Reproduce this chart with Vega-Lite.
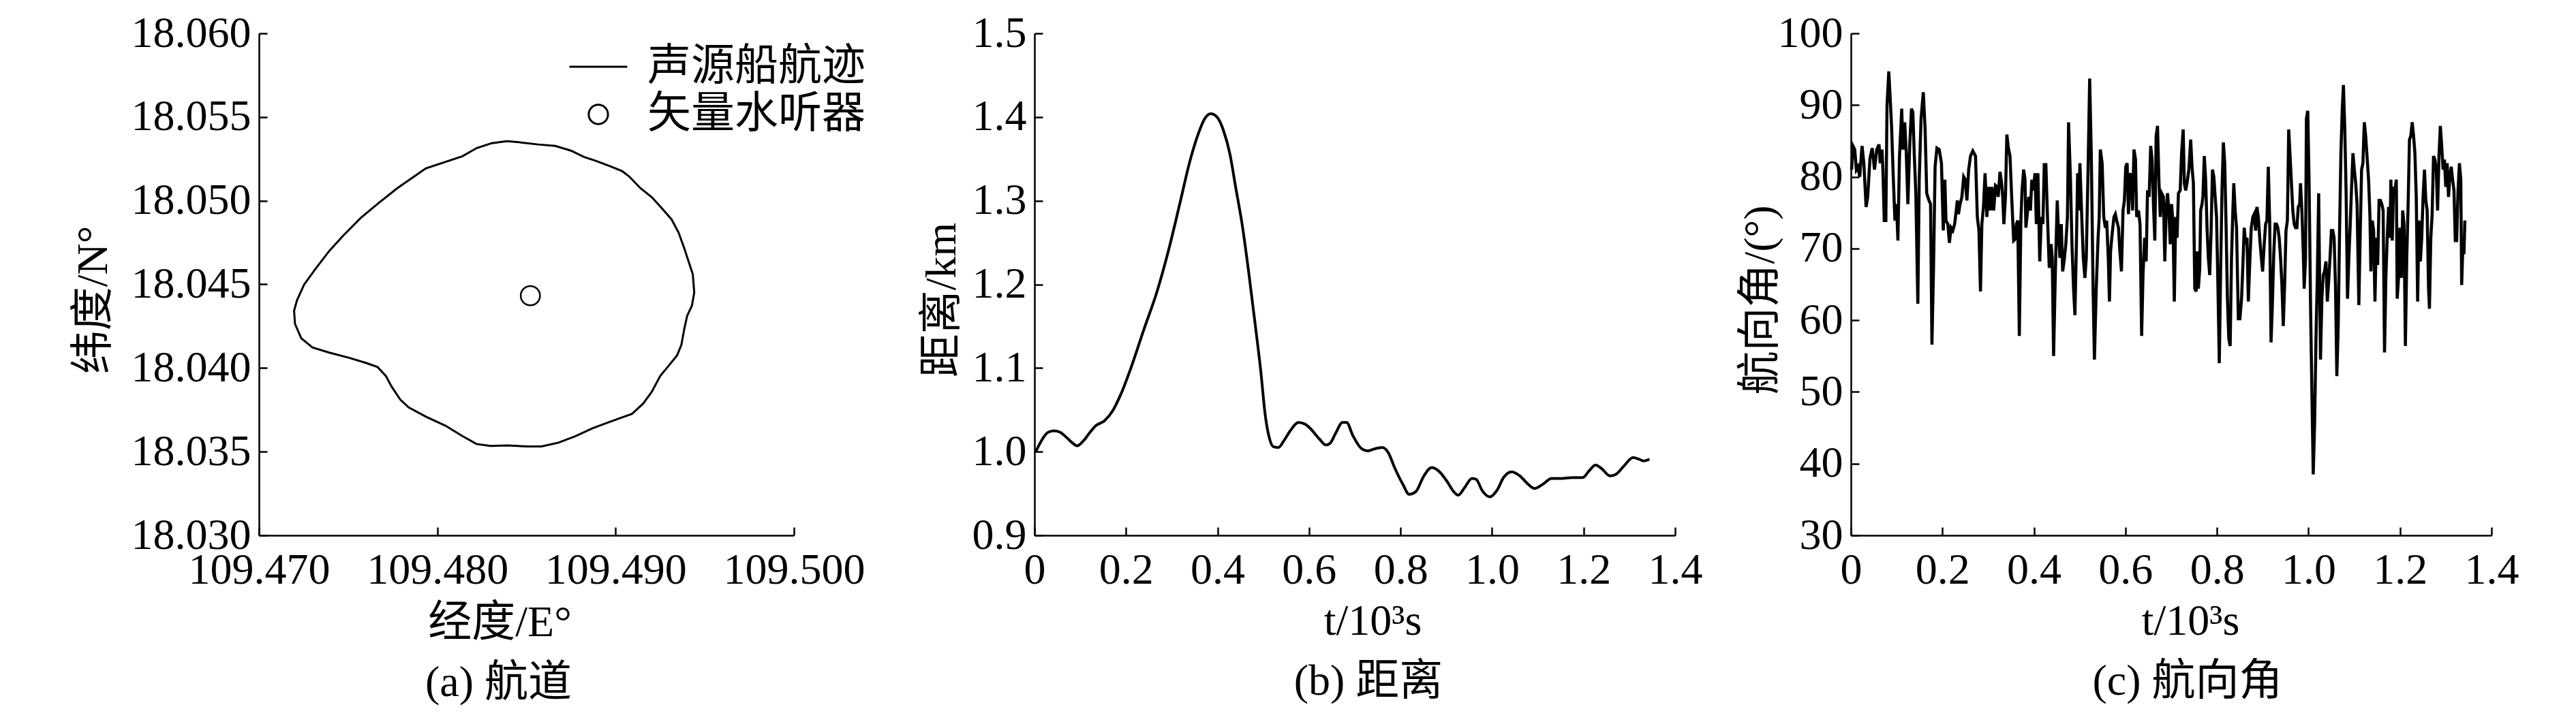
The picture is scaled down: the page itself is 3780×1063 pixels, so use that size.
{
  "$schema": "https://vega.github.io/schema/vega-lite/v6.json",
  "background": "white",
  "padding": {"left": 105, "top": 17, "right": 5, "bottom": 5},
  "spacing": 81,
  "datasets": {
    "track": [
      {"i":0,"lon":109.48390,"lat":18.05356},{"i":1,"lon":109.48306,"lat":18.05344},{"i":2,"lon":109.48222,"lat":18.05315},{"i":3,"lon":109.48141,"lat":18.05266},{"i":4,"lon":109.47935,"lat":18.05193},{"i":5,"lon":109.47871,"lat":18.05145},{"i":6,"lon":109.47776,"lat":18.05075},{"i":7,"lon":109.47665,"lat":18.04981},{"i":8,"lon":109.47570,"lat":18.04896},{"i":9,"lon":109.47475,"lat":18.04794},{"i":10,"lon":109.47395,"lat":18.04701},{"i":11,"lon":109.47316,"lat":18.04591},{"i":12,"lon":109.47253,"lat":18.04498},{"i":13,"lon":109.47213,"lat":18.04404},{"i":14,"lon":109.47197,"lat":18.04342},{"i":15,"lon":109.47202,"lat":18.04264},{"i":16,"lon":109.47237,"lat":18.04178},{"i":17,"lon":109.47300,"lat":18.04123},{"i":18,"lon":109.47395,"lat":18.04092},{"i":19,"lon":109.47506,"lat":18.04061},{"i":20,"lon":109.47602,"lat":18.04030},{"i":21,"lon":109.47665,"lat":18.04006},{"i":22,"lon":109.47712,"lat":18.03952},{"i":23,"lon":109.47744,"lat":18.03889},{"i":24,"lon":109.47792,"lat":18.03812},{"i":25,"lon":109.47839,"lat":18.03765},{"i":26,"lon":109.47935,"lat":18.03710},{"i":27,"lon":109.48046,"lat":18.03655},{"i":28,"lon":109.48141,"lat":18.03593},{"i":29,"lon":109.48220,"lat":18.03546},{"i":30,"lon":109.48299,"lat":18.03534},{"i":31,"lon":109.48394,"lat":18.03537},{"i":32,"lon":109.48505,"lat":18.03531},{"i":33,"lon":109.48584,"lat":18.03531},{"i":34,"lon":109.48680,"lat":18.03554},{"i":35,"lon":109.48775,"lat":18.03593},{"i":36,"lon":109.48870,"lat":18.03640},{"i":37,"lon":109.48949,"lat":18.03671},{"i":38,"lon":109.49028,"lat":18.03702},{"i":39,"lon":109.49092,"lat":18.03726},{"i":40,"lon":109.49155,"lat":18.03788},{"i":41,"lon":109.49203,"lat":18.03858},{"i":42,"lon":109.49250,"lat":18.03952},{"i":43,"lon":109.49298,"lat":18.04014},{"i":44,"lon":109.49345,"lat":18.04076},{"i":45,"lon":109.49369,"lat":18.04139},{"i":46,"lon":109.49385,"lat":18.04233},{"i":47,"lon":109.49401,"lat":18.04311},{"i":48,"lon":109.49428,"lat":18.04373},{"i":49,"lon":109.49441,"lat":18.04451},{"i":50,"lon":109.49433,"lat":18.04560},{"i":51,"lon":109.49409,"lat":18.04638},{"i":52,"lon":109.49385,"lat":18.04716},{"i":53,"lon":109.49353,"lat":18.04810},{"i":54,"lon":109.49314,"lat":18.04888},{"i":55,"lon":109.49250,"lat":18.04966},{"i":56,"lon":109.49203,"lat":18.05021},{"i":57,"lon":109.49139,"lat":18.05075},{"i":58,"lon":109.49076,"lat":18.05145},{"i":59,"lon":109.49036,"lat":18.05177},{"i":60,"lon":109.48965,"lat":18.05208},{"i":61,"lon":109.48886,"lat":18.05239},{"i":62,"lon":109.48822,"lat":18.05262},{"i":63,"lon":109.48750,"lat":18.05299},{"i":64,"lon":109.48662,"lat":18.05327},{"i":65,"lon":109.48566,"lat":18.05336},{"i":66,"lon":109.48470,"lat":18.05348},{"i":67,"lon":109.48390,"lat":18.05356}
    ],
    "hyd": [{"lon":109.48522,"lat":18.04432,"series":"矢量水听器"}],
    "dist": [
      {"t":0.002,"d":0.999},{"t":0.011,"d":1.009},{"t":0.029,"d":1.023},{"t":0.043,"d":1.025},{"t":0.057,"d":1.023},{"t":0.070,"d":1.017},{"t":0.084,"d":1.010},{"t":0.093,"d":1.007},{"t":0.107,"d":1.013},{"t":0.121,"d":1.023},{"t":0.134,"d":1.031},{"t":0.153,"d":1.037},{"t":0.171,"d":1.049},{"t":0.189,"d":1.069},{"t":0.212,"d":1.102},{"t":0.239,"d":1.146},{"t":0.267,"d":1.190},{"t":0.294,"d":1.243},{"t":0.317,"d":1.295},{"t":0.340,"d":1.348},{"t":0.358,"d":1.380},{"t":0.372,"d":1.398},{"t":0.385,"d":1.404},{"t":0.399,"d":1.400},{"t":0.413,"d":1.384},{"t":0.427,"d":1.356},{"t":0.440,"d":1.315},{"t":0.454,"d":1.271},{"t":0.468,"d":1.215},{"t":0.481,"d":1.158},{"t":0.495,"d":1.094},{"t":0.504,"d":1.045},{"t":0.513,"d":1.017},{"t":0.522,"d":1.006},{"t":0.533,"d":1.005},{"t":0.545,"d":1.013},{"t":0.559,"d":1.025},{"t":0.577,"d":1.035},{"t":0.591,"d":1.033},{"t":0.604,"d":1.027},{"t":0.623,"d":1.015},{"t":0.637,"d":1.008},{"t":0.646,"d":1.010},{"t":0.659,"d":1.023},{"t":0.673,"d":1.035},{"t":0.682,"d":1.035},{"t":0.696,"d":1.019},{"t":0.714,"d":1.004},{"t":0.728,"d":1.001},{"t":0.741,"d":1.003},{"t":0.760,"d":1.005},{"t":0.773,"d":0.999},{"t":0.787,"d":0.981},{"t":0.805,"d":0.961},{"t":0.819,"d":0.949},{"t":0.833,"d":0.952},{"t":0.851,"d":0.971},{"t":0.868,"d":0.981},{"t":0.883,"d":0.977},{"t":0.901,"d":0.965},{"t":0.915,"d":0.953},{"t":0.926,"d":0.948},{"t":0.940,"d":0.957},{"t":0.956,"d":0.968},{"t":0.965,"d":0.967},{"t":0.979,"d":0.953},{"t":0.995,"d":0.946},{"t":1.011,"d":0.954},{"t":1.025,"d":0.969},{"t":1.043,"d":0.976},{"t":1.061,"d":0.971},{"t":1.079,"d":0.961},{"t":1.093,"d":0.956},{"t":1.111,"d":0.961},{"t":1.130,"d":0.968},{"t":1.153,"d":0.968},{"t":1.175,"d":0.969},{"t":1.198,"d":0.969},{"t":1.212,"d":0.977},{"t":1.226,"d":0.984},{"t":1.239,"d":0.980},{"t":1.258,"d":0.971},{"t":1.271,"d":0.973},{"t":1.290,"d":0.984},{"t":1.308,"d":0.993},{"t":1.321,"d":0.991},{"t":1.331,"d":0.989},{"t":1.344,"d":0.991}
    ],
    "head": [
      {"t":0.0015,"v":81.0},{"t":0.0045,"v":84.3},{"t":0.0084,"v":83.8},{"t":0.0119,"v":81.0},{"t":0.0154,"v":81.4},{"t":0.0193,"v":80.0},{"t":0.0243,"v":84.3},{"t":0.0283,"v":81.9},{"t":0.0332,"v":75.8},{"t":0.0367,"v":77.2},{"t":0.0417,"v":82.6},{"t":0.0466,"v":84.0},{"t":0.0516,"v":81.0},{"t":0.0565,"v":83.8},{"t":0.0615,"v":84.5},{"t":0.0640,"v":81.9},{"t":0.0680,"v":83.8},{"t":0.0699,"v":81.0},{"t":0.0729,"v":73.9},{"t":0.0764,"v":73.9},{"t":0.0789,"v":89.9},{"t":0.0828,"v":94.7},{"t":0.0863,"v":90.4},{"t":0.0888,"v":87.1},{"t":0.0928,"v":79.6},{"t":0.0962,"v":73.9},{"t":0.0997,"v":76.2},{"t":0.1027,"v":71.1},{"t":0.1062,"v":82.9},{"t":0.1111,"v":89.5},{"t":0.1136,"v":83.8},{"t":0.1176,"v":87.6},{"t":0.1210,"v":83.3},{"t":0.1245,"v":76.2},{"t":0.1285,"v":84.3},{"t":0.1324,"v":89.5},{"t":0.1354,"v":89.0},{"t":0.1384,"v":83.3},{"t":0.1419,"v":77.7},{"t":0.1463,"v":62.3},{"t":0.1493,"v":79.6},{"t":0.1533,"v":88.1},{"t":0.1582,"v":91.8},{"t":0.1622,"v":86.6},{"t":0.1657,"v":77.7},{"t":0.1706,"v":76.7},{"t":0.1741,"v":76.2},{"t":0.1771,"v":56.6},{"t":0.1806,"v":67.3},{"t":0.1840,"v":81.4},{"t":0.1880,"v":84.0},{"t":0.1930,"v":83.8},{"t":0.1979,"v":81.9},{"t":0.2019,"v":72.5},{"t":0.2054,"v":79.6},{"t":0.2078,"v":73.9},{"t":0.2118,"v":73.4},{"t":0.2153,"v":70.8},{"t":0.2188,"v":72.9},{"t":0.2227,"v":72.5},{"t":0.2267,"v":73.4},{"t":0.2302,"v":75.3},{"t":0.2326,"v":76.7},{"t":0.2351,"v":74.8},{"t":0.2386,"v":76.2},{"t":0.2426,"v":77.2},{"t":0.2465,"v":80.0},{"t":0.2500,"v":79.6},{"t":0.2535,"v":76.7},{"t":0.2574,"v":81.0},{"t":0.2614,"v":82.9},{"t":0.2664,"v":83.6},
      {"t":0.2723,"v":82.9},{"t":0.2763,"v":74.4},{"t":0.2798,"v":72.5},{"t":0.2832,"v":64.0},{"t":0.2862,"v":73.4},{"t":0.2897,"v":75.8},{"t":0.2932,"v":80.5},{"t":0.2971,"v":74.4},{"t":0.3011,"v":78.6},{"t":0.3046,"v":75.3},{"t":0.3081,"v":78.6},{"t":0.3120,"v":75.3},{"t":0.3160,"v":78.8},{"t":0.3194,"v":78.6},{"t":0.3219,"v":77.2},{"t":0.3259,"v":80.7},{"t":0.3294,"v":79.1},{"t":0.3318,"v":77.2},{"t":0.3343,"v":73.4},{"t":0.3378,"v":77.2},{"t":0.3408,"v":85.9},{"t":0.3442,"v":84.0},{"t":0.3477,"v":82.9},{"t":0.3517,"v":76.7},{"t":0.3557,"v":71.1},{"t":0.3591,"v":71.3},{"t":0.3616,"v":73.4},{"t":0.3646,"v":73.9},{"t":0.3681,"v":57.8},{"t":0.3715,"v":73.9},{"t":0.3740,"v":78.1},{"t":0.3775,"v":81.0},{"t":0.3805,"v":79.6},{"t":0.3824,"v":72.9},{"t":0.3854,"v":74.8},{"t":0.3889,"v":77.2},{"t":0.3924,"v":75.3},{"t":0.3953,"v":79.6},{"t":0.3988,"v":78.1},{"t":0.4023,"v":80.5},{"t":0.4053,"v":73.4},{"t":0.4087,"v":80.5},{"t":0.4127,"v":68.2},{"t":0.4162,"v":74.4},{"t":0.4196,"v":73.4},{"t":0.4226,"v":81.7},{"t":0.4261,"v":81.7},{"t":0.4296,"v":74.4},{"t":0.4335,"v":67.3},{"t":0.4375,"v":70.6},{"t":0.4400,"v":68.7},{"t":0.4430,"v":55.0},{"t":0.4469,"v":66.8},{"t":0.4509,"v":76.7},{"t":0.4539,"v":72.0},{"t":0.4568,"v":68.7},{"t":0.4598,"v":73.4},{"t":0.4628,"v":66.8},{"t":0.4658,"v":68.2},{"t":0.4697,"v":70.6},{"t":0.4732,"v":74.4},{"t":0.4757,"v":87.6},{"t":0.4797,"v":80.0},{"t":0.4831,"v":70.6},{"t":0.4866,"v":64.4},{"t":0.4896,"v":60.7},{"t":0.4931,"v":71.5},{"t":0.4955,"v":80.5},{"t":0.4980,"v":75.3},{"t":0.5005,"v":81.9},{"t":0.5045,"v":74.4},{"t":0.5079,"v":68.7},{"t":0.5114,"v":65.9},{"t":0.5144,"v":68.7},{"t":0.5183,"v":81.0},{"t":0.5218,"v":93.7},{"t":0.5253,"v":83.3},{"t":0.5293,"v":64.4},{"t":0.5322,"v":54.5},{"t":0.5362,"v":64.4},{"t":0.5402,"v":71.5},{"t":0.5427,"v":74.4},{"t":0.5451,"v":83.8},{"t":0.5491,"v":81.9},{"t":0.5526,"v":74.4},{"t":0.5561,"v":72.9},
      {"t":0.5590,"v":73.9},{"t":0.5625,"v":68.7},{"t":0.5650,"v":62.6},{"t":0.5675,"v":69.6},{"t":0.5709,"v":72.0},{"t":0.5749,"v":74.4},{"t":0.5779,"v":74.8},{"t":0.5809,"v":73.9},{"t":0.5848,"v":72.9},{"t":0.5878,"v":69.6},{"t":0.5913,"v":66.8},{"t":0.5947,"v":75.3},{"t":0.5977,"v":76.7},{"t":0.6007,"v":81.4},{"t":0.6037,"v":81.9},{"t":0.6066,"v":74.8},{"t":0.6096,"v":80.5},{"t":0.6126,"v":80.0},{"t":0.6156,"v":75.3},{"t":0.6186,"v":83.8},{"t":0.6220,"v":82.4},{"t":0.6245,"v":74.4},{"t":0.6285,"v":75.3},{"t":0.6319,"v":73.4},{"t":0.6354,"v":57.8},{"t":0.6384,"v":66.3},{"t":0.6419,"v":71.5},{"t":0.6453,"v":68.2},{"t":0.6483,"v":78.1},{"t":0.6518,"v":77.2},{"t":0.6552,"v":84.3},{"t":0.6582,"v":82.4},{"t":0.6612,"v":76.2},{"t":0.6642,"v":71.1},{"t":0.6671,"v":85.7},{"t":0.6701,"v":87.1},{"t":0.6731,"v":79.6},{"t":0.6761,"v":74.4},{"t":0.6791,"v":77.7},{"t":0.6830,"v":77.2},{"t":0.6860,"v":68.2},{"t":0.6890,"v":75.3},{"t":0.6920,"v":77.7},{"t":0.6949,"v":75.3},{"t":0.6979,"v":70.6},{"t":0.7009,"v":76.2},{"t":0.7039,"v":73.4},{"t":0.7068,"v":62.6},{"t":0.7098,"v":74.4},{"t":0.7128,"v":71.5},{"t":0.7158,"v":77.7},{"t":0.7197,"v":78.1},{"t":0.7227,"v":83.3},{"t":0.7262,"v":86.6},{"t":0.7287,"v":79.1},{"t":0.7316,"v":78.1},{"t":0.7346,"v":79.1},{"t":0.7386,"v":81.0},{"t":0.7426,"v":85.2},{"t":0.7455,"v":81.4},{"t":0.7485,"v":79.1},{"t":0.7515,"v":64.4},{"t":0.7545,"v":64.0},{"t":0.7574,"v":69.6},{"t":0.7594,"v":64.4},{"t":0.7624,"v":67.3},{"t":0.7644,"v":75.3},{"t":0.7674,"v":76.2},{"t":0.7693,"v":77.2},{"t":0.7723,"v":82.9},{"t":0.7753,"v":79.6},{"t":0.7783,"v":72.9},{"t":0.7812,"v":68.7},{"t":0.7842,"v":66.3},{"t":0.7872,"v":72.5},{"t":0.7902,"v":81.0},{"t":0.7932,"v":80.0},{"t":0.7961,"v":77.2},{"t":0.7991,"v":74.4},{"t":0.8021,"v":64.9},{"t":0.8051,"v":54.0},{"t":0.8080,"v":66.8},{"t":0.8110,"v":78.1},{"t":0.8140,"v":84.8},{"t":0.8170,"v":81.9},{"t":0.8199,"v":73.4},{"t":0.8229,"v":63.0},{"t":0.8259,"v":57.4},{"t":0.8289,"v":56.4},{"t":0.8318,"v":68.7},{"t":0.8348,"v":75.3},{"t":0.8368,"v":79.1},{"t":0.8398,"v":75.3},{"t":0.8428,"v":72.9},
      {"t":0.8467,"v":60.2},{"t":0.8502,"v":60.2},{"t":0.8537,"v":63.0},{"t":0.8567,"v":67.7},{"t":0.8596,"v":72.9},{"t":0.8626,"v":70.6},{"t":0.8656,"v":71.5},{"t":0.8686,"v":62.6},{"t":0.8715,"v":67.7},{"t":0.8750,"v":72.9},{"t":0.8785,"v":74.4},{"t":0.8815,"v":74.8},{"t":0.8844,"v":72.5},{"t":0.8874,"v":75.8},{"t":0.8904,"v":74.4},{"t":0.8934,"v":71.5},{"t":0.8963,"v":69.2},{"t":0.8998,"v":66.8},{"t":0.9033,"v":70.6},{"t":0.9063,"v":73.4},{"t":0.9092,"v":73.9},{"t":0.9122,"v":81.4},{"t":0.9152,"v":73.9},{"t":0.9182,"v":56.9},{"t":0.9211,"v":62.1},{"t":0.9241,"v":69.2},{"t":0.9271,"v":73.4},{"t":0.9301,"v":73.4},{"t":0.9330,"v":72.9},{"t":0.9360,"v":71.5},{"t":0.9390,"v":68.7},{"t":0.9420,"v":64.9},{"t":0.9449,"v":59.2},{"t":0.9479,"v":64.9},{"t":0.9509,"v":72.5},{"t":0.9539,"v":73.9},{"t":0.9568,"v":86.6},{"t":0.9598,"v":82.9},{"t":0.9628,"v":79.1},{"t":0.9658,"v":75.3},{"t":0.9688,"v":73.4},{"t":0.9717,"v":72.9},{"t":0.9747,"v":72.9},{"t":0.9777,"v":75.8},{"t":0.9807,"v":76.2},{"t":0.9826,"v":79.1},{"t":0.9856,"v":75.3},{"t":0.9886,"v":69.6},{"t":0.9906,"v":64.4},{"t":0.9936,"v":68.7},{"t":0.9955,"v":88.1},{"t":0.9985,"v":89.2},{"t":1.0015,"v":78.6},{"t":1.0045,"v":62.1},{"t":1.0074,"v":50.3},{"t":1.0104,"v":38.5},{"t":1.0134,"v":45.5},{"t":1.0164,"v":57.4},{"t":1.0193,"v":65.9},{"t":1.0223,"v":77.7},{"t":1.0243,"v":65.9},{"t":1.0263,"v":54.5},{"t":1.0293,"v":63.0},{"t":1.0322,"v":66.3},{"t":1.0352,"v":66.8},{"t":1.0382,"v":68.2},{"t":1.0412,"v":62.6},{"t":1.0441,"v":65.4},{"t":1.0471,"v":68.7},{"t":1.0501,"v":72.5},{"t":1.0531,"v":72.5},{"t":1.0560,"v":71.5},{"t":1.0590,"v":64.9},{"t":1.0620,"v":52.2},{"t":1.0650,"v":59.2},{"t":1.0680,"v":72.5},{"t":1.0709,"v":83.3},{"t":1.0739,"v":89.5},{"t":1.0764,"v":92.8},{"t":1.0794,"v":86.6},{"t":1.0823,"v":77.7},{"t":1.0853,"v":63.0},{"t":1.0883,"v":68.7},{"t":1.0913,"v":73.4},{"t":1.0942,"v":78.6},{"t":1.0972,"v":83.3},{"t":1.1002,"v":81.0},{"t":1.1032,"v":79.1},{"t":1.1062,"v":76.2},{"t":1.1101,"v":62.1},{"t":1.1131,"v":72.0},{"t":1.1161,"v":81.0},{"t":1.1190,"v":81.9},{"t":1.1220,"v":87.6},{"t":1.1250,"v":85.7},
      {"t":1.1314,"v":79.6},{"t":1.1344,"v":74.4},{"t":1.1364,"v":66.8},{"t":1.1394,"v":73.9},{"t":1.1424,"v":72.5},{"t":1.1453,"v":62.6},{"t":1.1483,"v":71.5},{"t":1.1513,"v":67.7},{"t":1.1543,"v":76.7},{"t":1.1572,"v":76.7},{"t":1.1602,"v":76.2},{"t":1.1632,"v":75.3},{"t":1.1662,"v":55.5},{"t":1.1692,"v":65.9},{"t":1.1721,"v":71.5},{"t":1.1751,"v":75.8},{"t":1.1781,"v":71.5},{"t":1.1801,"v":79.6},{"t":1.1830,"v":71.1},{"t":1.1860,"v":78.6},{"t":1.1890,"v":78.1},{"t":1.1920,"v":79.6},{"t":1.1939,"v":63.0},{"t":1.1969,"v":65.9},{"t":1.1999,"v":72.9},{"t":1.2029,"v":65.9},{"t":1.2059,"v":75.3},{"t":1.2088,"v":73.4},{"t":1.2118,"v":56.4},{"t":1.2148,"v":68.7},{"t":1.2178,"v":76.2},{"t":1.2207,"v":85.2},{"t":1.2237,"v":85.7},{"t":1.2267,"v":87.6},{"t":1.2297,"v":85.7},{"t":1.2326,"v":83.3},{"t":1.2356,"v":77.2},{"t":1.2386,"v":62.6},{"t":1.2416,"v":73.9},{"t":1.2446,"v":68.2},{"t":1.2475,"v":71.5},{"t":1.2505,"v":77.2},{"t":1.2535,"v":81.0},{"t":1.2565,"v":76.7},{"t":1.2594,"v":75.3},{"t":1.2624,"v":64.4},{"t":1.2644,"v":61.6},{"t":1.2674,"v":71.5},{"t":1.2703,"v":74.8},{"t":1.2733,"v":82.9},{"t":1.2763,"v":82.4},{"t":1.2793,"v":81.0},{"t":1.2822,"v":75.3},{"t":1.2852,"v":82.9},{"t":1.2882,"v":87.1},{"t":1.2912,"v":84.3},{"t":1.2942,"v":81.0},{"t":1.2971,"v":82.4},{"t":1.3001,"v":78.6},{"t":1.3031,"v":81.9},{"t":1.3061,"v":77.2},{"t":1.3090,"v":80.0},{"t":1.3120,"v":81.4},{"t":1.3150,"v":79.6},{"t":1.3180,"v":78.1},{"t":1.3209,"v":71.1},{"t":1.3239,"v":71.1},{"t":1.3269,"v":78.1},{"t":1.3299,"v":81.9},{"t":1.3329,"v":79.6},{"t":1.3348,"v":64.9},{"t":1.3378,"v":71.1},{"t":1.3398,"v":69.2},{"t":1.3418,"v":73.9}
    ]
  },
  "hconcat": [
    {
      "width": 785,
      "height": 737,
      "title": {"text": "(a) 航道", "orient": "bottom", "anchor": "middle", "frame": "group", "dx": -41, "offset": 25},
      "layer": [
        {
          "data": {"name": "track"},
          "mark": {"type": "line", "color": "black", "strokeWidth": 3, "interpolate": "linear"},
          "encoding": {
            "x": {"field": "lon", "type": "quantitative", "scale": {"domain": [109.47, 109.5], "zero": false, "nice": false},
                  "axis": {"title": "经度/E°", "values": [109.47, 109.48, 109.49, 109.5], "format": ".3f", "titleX": 353, "titleY": 128}},
            "y": {"field": "lat", "type": "quantitative", "scale": {"domain": [18.03, 18.06], "zero": false, "nice": false},
                  "axis": {"title": "纬度/N°", "values": [18.03, 18.035, 18.04, 18.045, 18.05, 18.055, 18.06], "format": ".3f", "titleX": -243, "titleY": 391}},
            "order": {"field": "i", "type": "quantitative"}
          }
        },
        {
          "data": {"name": "hyd"},
          "mark": {"type": "point", "filled": false, "color": "black", "strokeWidth": 2.5, "size": 800, "opacity": 1},
          "encoding": {
            "x": {"field": "lon", "type": "quantitative", "scale": {"domain": [109.47, 109.5], "zero": false, "nice": false}},
            "y": {"field": "lat", "type": "quantitative", "scale": {"domain": [18.03, 18.06], "zero": false, "nice": false}},
            "shape": {"field": "series", "type": "nominal",
                      "scale": {"domain": ["声源船航迹", "矢量水听器"], "range": ["M-3,0H3", "circle"]},
                      "legend": {"orient": "none", "legendX": 466, "legendY": 17, "title": null,
                                 "labelFont": "Liberation Serif, Noto Sans CJK SC", "labelFontSize": 64, "labelColor": "black", "labelLimit": 1000,
                                 "symbolSize": 800, "symbolStrokeWidth": 3, "symbolStrokeColor": "black", "symbolFillColor": "transparent",
                                 "labelOffset": 40, "rowPadding": 6}}
          }
        }
      ]
    },
    {
      "spacing": 53,
      "hconcat": [
        {
          "width": 940,
          "height": 737,
          "data": {"name": "dist"},
          "title": {"text": "(b) 距离", "orient": "bottom", "anchor": "middle", "frame": "group", "dx": 20, "offset": 25},
          "mark": {"type": "line", "color": "black", "strokeWidth": 4, "interpolate": "monotone"},
          "encoding": {
            "x": {"field": "t", "type": "quantitative", "scale": {"domain": [0, 1.4], "nice": false},
                  "axis": {"title": "t/10³s", "values": [0, 0.2, 0.4, 0.6, 0.8, 1.0, 1.2, 1.4], "labelExpr": "datum.value == 0 ? '0' : format(datum.value, '.1f')", "titleX": 496, "titleY": 126}},
            "y": {"field": "d", "type": "quantitative", "scale": {"domain": [0.9, 1.5], "zero": false, "nice": false},
                  "axis": {"title": "距离/km", "values": [0.9, 1.0, 1.1, 1.2, 1.3, 1.4, 1.5], "format": ".1f", "titleX": -136, "titleY": 391}}
          }
        },
        {
          "width": 940,
          "height": 737,
          "data": {"name": "head"},
          "title": {"text": "(c) 航向角", "orient": "bottom", "anchor": "middle", "frame": "group", "dx": 24, "offset": 25},
          "mark": {"type": "line", "color": "black", "strokeWidth": 4.5, "interpolate": "linear"},
          "encoding": {
            "x": {"field": "t", "type": "quantitative", "scale": {"domain": [0, 1.4], "nice": false},
                  "axis": {"title": "t/10³s", "values": [0, 0.2, 0.4, 0.6, 0.8, 1.0, 1.2, 1.4], "labelExpr": "datum.value == 0 ? '0' : format(datum.value, '.1f')", "titleX": 498, "titleY": 126}},
            "y": {"field": "v", "type": "quantitative", "scale": {"domain": [30, 100], "zero": false, "nice": false},
                  "axis": {"title": "航向角/(°)", "values": [30, 40, 50, 60, 70, 80, 90, 100], "format": "d", "titleX": -133, "titleY": 391}}
          }
        }
      ]
    }
  ],
  "config": {
    "font": "Liberation Serif, Noto Sans CJK SC",
    "view": {"stroke": null},
    "axis": {
      "grid": false, "domainColor": "black", "domainWidth": 2.5, "tickColor": "black", "tickWidth": 2.5, "tickSize": -12,
      "labelFont": "Liberation Serif", "labelFontSize": 64, "labelColor": "black", "labelOverlap": false, "labelFlush": false, "labelLimit": 1000,
      "titleFont": "Liberation Serif, Noto Sans CJK SC", "titleFontSize": 64, "titleFontWeight": "normal", "titleColor": "black", "titleBaseline": "middle"
    },
    "axisX": {"labelPadding": 31},
    "axisY": {"labelPadding": 24},
    "title": {"font": "Liberation Serif, Noto Sans CJK SC", "fontSize": 64, "fontWeight": "normal", "color": "black"}
  }
}
